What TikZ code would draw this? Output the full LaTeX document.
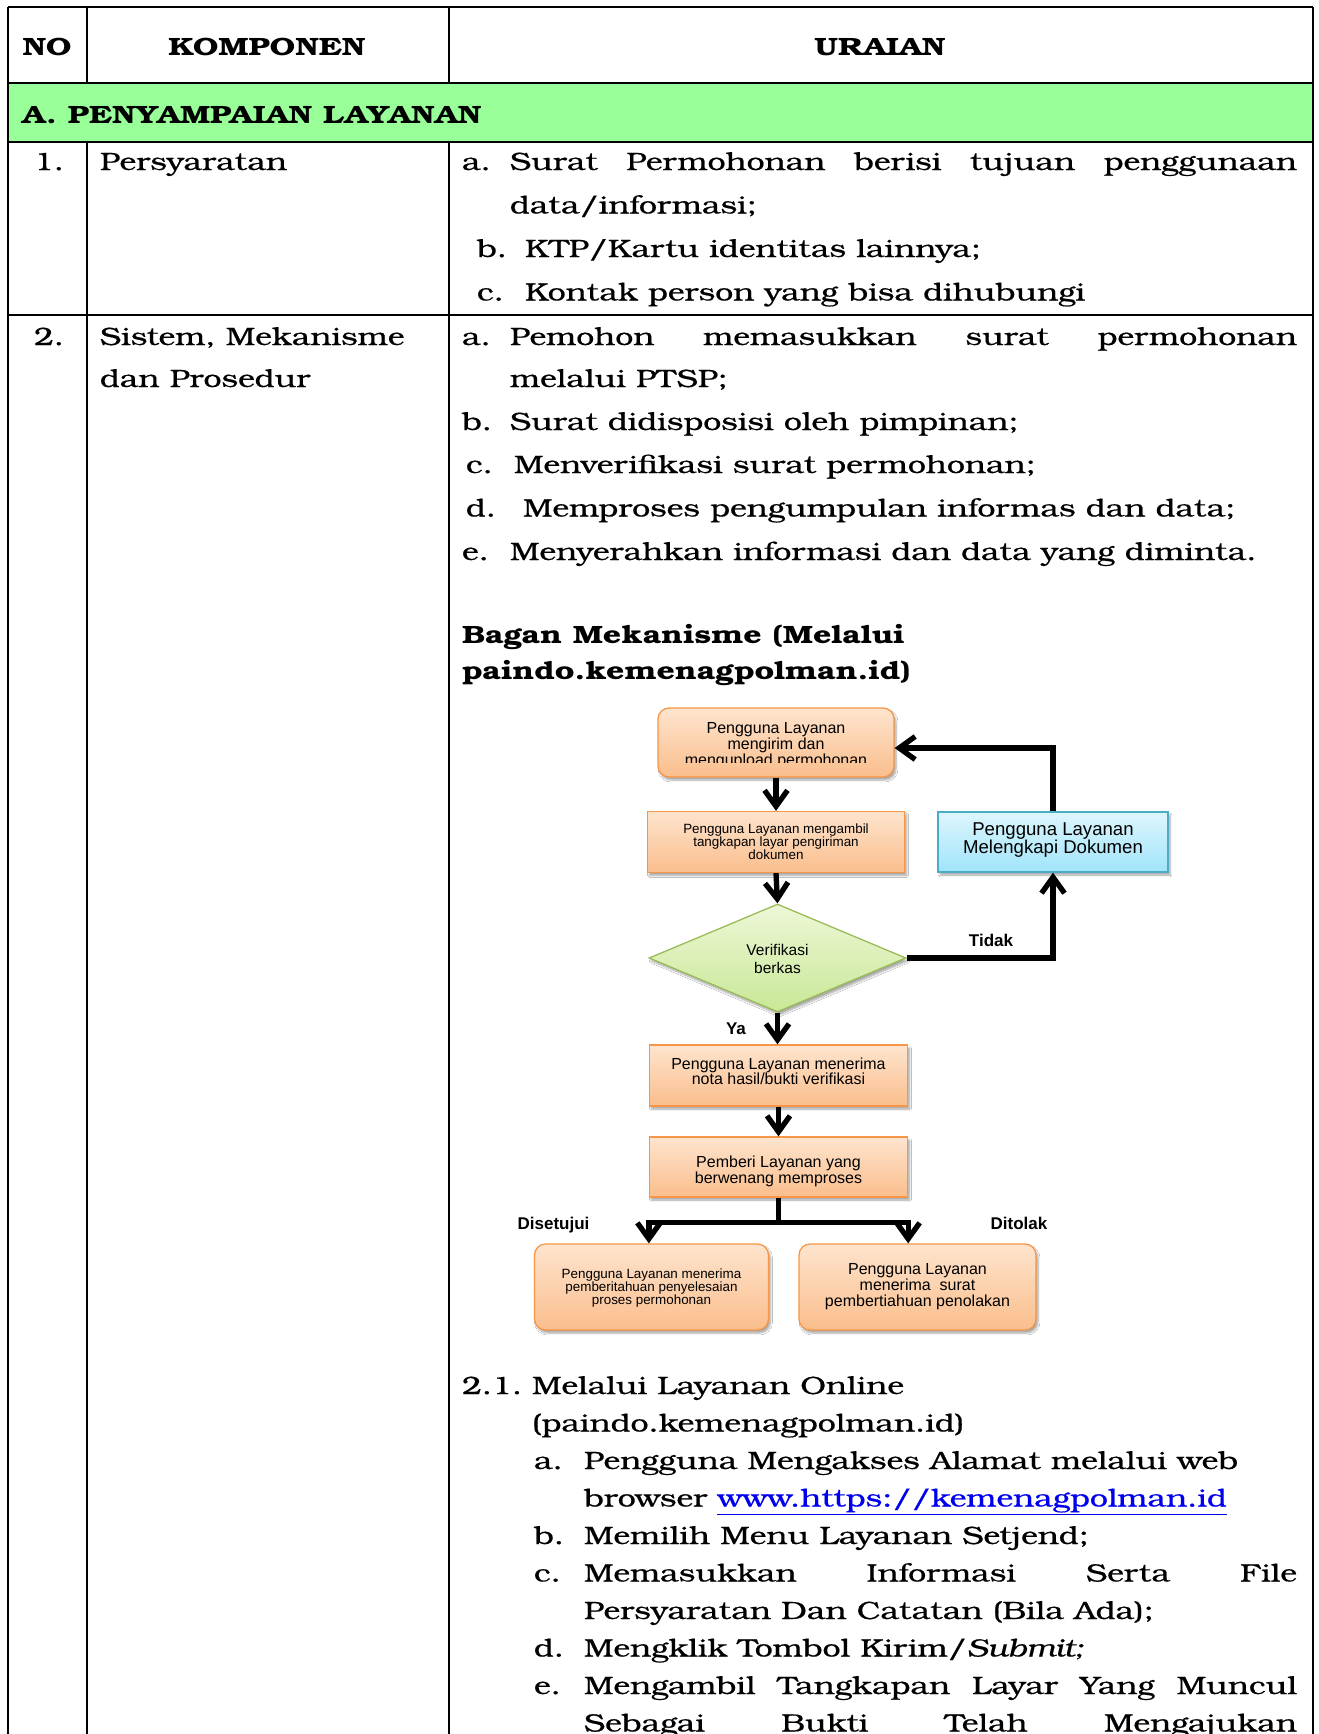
\documentclass[tikz,border=0pt]{standalone}
\usepackage{fontspec}
\setmainfont[FakeStretch=1.28,UprightFeatures={FakeBold=0.6},ItalicFeatures={FakeBold=0.6}]{TeX Gyre Bonum}
\newfontfamily\flowfont{Liberation Sans}
\usetikzlibrary{arrows.meta,shapes.geometric,shadows.blur}

\definecolor{rowgreen}{RGB}{153,255,153}
\definecolor{obord}{RGB}{247,150,70}
\definecolor{otop}{RGB}{254,228,206}
\definecolor{obot}{RGB}{250,190,140}
\definecolor{bbord}{RGB}{75,172,198}
\definecolor{btop}{RGB}{222,246,253}
\definecolor{bbot}{RGB}{160,228,250}
\definecolor{gbord}{RGB}{155,187,89}
\definecolor{gtop}{RGB}{238,247,215}
\definecolor{gbot}{RGB}{200,232,150}
\definecolor{linkblue}{RGB}{0,0,238}

\tikzset{
  tbl/.style={line width=1.6pt,black},
  body/.style={inner sep=0pt,outer sep=0pt,anchor=base west,font=\fontsize{25}{43}\selectfont},
  bodyb/.style={body,font=\fontsize{25}{43}\selectfont\bfseries},
  shade/.style={blur shadow={shadow xshift=2pt,shadow yshift=-3pt,shadow blur steps=6,shadow opacity=35}},
  obox/.style={rectangle,draw=obord,line width=1.3pt,top color=otop,bottom color=obot,shade,inner sep=0pt},
  orbox/.style={obox,rounded corners=11pt},
  bbox/.style={rectangle,draw=bbord,line width=1.3pt,top color=btop,bottom color=bbot,shade,inner sep=0pt},
  dbox/.style={diamond,draw=gbord,line width=1.3pt,top color=gtop,bottom color=gbot,shade,inner sep=0pt},
  ftext/.style={align=center,inner sep=0pt,text=black},
  conn/.style={line width=5.3pt,black,line join=miter},
  arr/.style={conn,-{Straight Barb[length=16pt,width=23pt]}},
  lbl/.style={inner sep=0pt,font=\flowfont\fontsize{17}{17}\selectfont\bfseries},
}

\begin{document}
\begin{tikzpicture}[x=1pt,y=-1pt]
\useasboundingbox (0,0) rectangle (1318,1734);
\fill[white] (0,0) rectangle (1318,1734);

% table frame
\fill[rowgreen] (8,83) rectangle (1313,142);
\draw[tbl] (8,7) -- (1313,7);
\draw[tbl] (8,83) -- (1313,83);
\draw[tbl] (8,142) -- (1313,142);
\draw[line width=2.6pt] (8,315) -- (1313,315);
\draw[tbl] (8,7) -- (8,1734);
\draw[tbl] (1313,7) -- (1313,1734);
\draw[tbl] (87,7) -- (87,83);
\draw[tbl] (87,142) -- (87,1734);
\draw[tbl] (449,7) -- (449,83);
\draw[tbl] (449,142) -- (449,1734);

% header
\node[bodyb,anchor=base] (hno) at (47,56) {NO};
\node[bodyb,anchor=base] (hkomp) at (267,56) {KOMPONEN};
\node[bodyb,anchor=base] (hur) at (880,56) {URAIAN};
\node[bodyb] (secA) at (22,124) {A. PENYAMPAIAN LAYANAN};

% row 1
\node[body] (n1) at (34,170) {1.};
\node[body] (k1) at (100,170) {Persyaratan};
\node[body] (r1a) at (462,170) {a.};
\node[body] (r1at) at (510,170) {\makebox[787pt][s]{Surat Permohonan berisi tujuan penggunaan}};
\node[body] (r1a2) at (510,213.5) {data/informasi;};
\node[body] (r1b) at (477,257) {b.};
\node[body] (r1bt) at (525,257) {KTP/Kartu identitas lainnya;};
\node[body] (r1c) at (477,300.5) {c.};
\node[body] (r1ct) at (525,300.5) {Kontak person yang bisa dihubungi};

% row 2
\node[body] (n2) at (34,345) {2.};
\node[body] (k2) at (100,345) {Sistem, Mekanisme};
\node[body] (k2b) at (100,387) {dan Prosedur};
\node[body] (r2a) at (462,345) {a.};
\node[body] (r2at) at (510,345) {\makebox[787pt][s]{Pemohon memasukkan surat permohonan}};
\node[body] (r2a2) at (510,387) {melalui PTSP;};
\node[body] (r2b) at (462,430) {b.};
\node[body] (r2bt) at (510,430) {Surat didisposisi oleh pimpinan;};
\node[body] (r2c) at (466,473) {c.};
\node[body] (r2ct) at (514,473) {Menverifikasi surat permohonan;};
\node[body] (r2d) at (466,516.5) {d.};
\node[body] (r2dt) at (523,516.5) {Memproses pengumpulan informas dan data;};
\node[body] (r2e) at (462,560) {e.};
\node[body] (r2et) at (510,560) {Menyerahkan informasi dan data yang diminta.};

\node[bodyb] (bag1) at (462,643) {Bagan Mekanisme (Melalui};
\node[bodyb] (bag2) at (462,679) {paindo.kemenagpolman.id)};

% flowchart
\node[orbox,minimum width=236pt,minimum height=69pt] (box1) at (776,742.5) {};
\begin{scope}
  \clip (660,710) rectangle (892,762);
  \node[ftext,font=\flowfont\fontsize{16}{14.5}\selectfont] (box1t) at (776,746) {Pengguna Layanan\\mengirim dan\\mengupload permohonan};
\end{scope}
\node[obox,minimum width=257pt,minimum height=61pt] (box2) at (776,842) {};
\node[ftext,font=\flowfont\fontsize{13.4}{13}\selectfont] (box2t) at (776,842) {Pengguna Layanan mengambil\\tangkapan layar pengiriman\\dokumen};
\node[bbox,minimum width=230pt,minimum height=60pt] (box3) at (1053,842) {};
\node[ftext,font=\flowfont\fontsize{18.6}{17}\selectfont] (box3t) at (1053,840) {Pengguna Layanan\\Melengkapi Dokumen};
\node[dbox,minimum width=257pt,minimum height=108pt] (dia) at (777.5,958) {};
\node[ftext,font=\flowfont\fontsize{15.5}{18}\selectfont] (diat) at (777.5,959) {Verifikasi\\berkas};
\node[obox,minimum width=258pt,minimum height=61pt] (box4) at (778.5,1075.5) {};
\node[ftext,font=\flowfont\fontsize{16}{15}\selectfont] (box4t) at (778.5,1071) {Pengguna Layanan menerima\\nota hasil/bukti verifikasi};
\node[obox,minimum width=258pt,minimum height=60pt] (box5) at (778.5,1167) {};
\node[ftext,font=\flowfont\fontsize{16}{16}\selectfont] (box5t) at (778.5,1171) {Pemberi Layanan yang\\berwenang memproses};
\node[orbox,minimum width=234pt,minimum height=86pt] (box6) at (651.5,1287) {};
\node[ftext,font=\flowfont\fontsize{13.4}{13}\selectfont] (box6t) at (651.5,1288) {Pengguna Layanan menerima\\pemberitahuan penyelesaian\\proses permohonan};
\node[orbox,minimum width=237pt,minimum height=86pt] (box7) at (917.5,1287) {};
\node[ftext,font=\flowfont\fontsize{16}{16}\selectfont] (box7t) at (917.5,1287) {Pengguna Layanan\\menerima\ \ surat\\pembertiahuan penolakan};

% connectors
\draw[arr] (box1.south) -- (box2.north);
\draw[arr] (box2.south) -- (dia.north);
\draw[arr] (dia.south) -- (dia.south |- box4.north);
\draw[arr] (box4.south) -- (box4.south |- box5.north);
\draw[arr] (dia.east) -| (box3.south);
\draw[arr] (box3.north) |- ([yshift=-5.5pt]box1.east);
\draw[conn] (box5.south) -- ++(0,25) coordinate (split);
\draw[arr] (split) -| (box5.west |- box6.north);
\draw[arr] (split) -| (box5.east |- box7.north);

\node[lbl] (ltidak) at (991,940) {Tidak};
\node[lbl] (lya) at (736,1029) {Ya};
\node[lbl] (lsetuju) at (553.5,1225) {Disetujui};
\node[lbl] (ltolak) at (1019,1223) {Ditolak};

% section 2.1
\node[body] (s21) at (462,1394) {2.1.};
\node[body] (s21t) at (532,1394) {Melalui Layanan Online};
\node[body] (s21t2) at (532,1431.5) {(paindo.kemenagpolman.id)};
\node[body] (s21a) at (534,1469) {a.};
\node[body] (s21at) at (584,1469) {Pengguna Mengakses Alamat melalui web};
\node[body] (s21a2) at (584,1506.5) {browser \textcolor{linkblue}{\underline{www.https://kemenagpolman.id}}};
\node[body] (s21b) at (534,1544) {b.};
\node[body] (s21bt) at (584,1544) {Memilih Menu Layanan Setjend;};
\node[body] (s21c) at (534,1581.5) {c.};
\node[body] (s21ct) at (584,1581.5) {\makebox[713pt][s]{Memasukkan Informasi Serta File}};
\node[body] (s21c2) at (584,1619) {Persyaratan Dan Catatan (Bila Ada);};
\node[body] (s21d) at (534,1656.5) {d.};
\node[body] (s21dt) at (584,1656.5) {Mengklik Tombol Kirim/\textit{Submit;}};
\node[body] (s21e) at (534,1694) {e.};
\node[body] (s21et) at (584,1694) {\makebox[713pt][s]{Mengambil Tangkapan Layar Yang Muncul}};
\node[body] (s21e2) at (584,1731.5) {\makebox[713pt][s]{Sebagai Bukti Telah Mengajukan}};

\end{tikzpicture}
\end{document}
